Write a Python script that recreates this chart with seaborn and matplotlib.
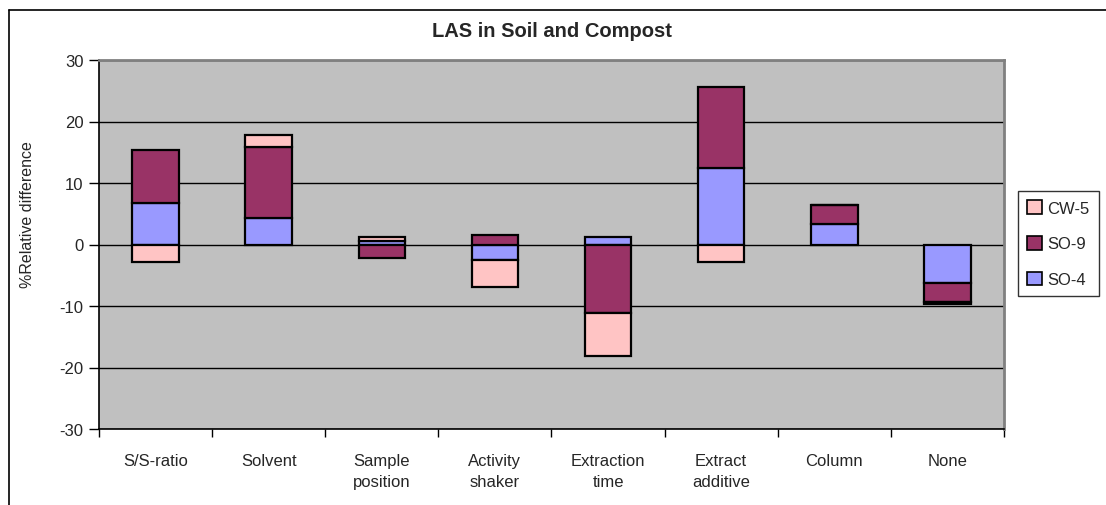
import matplotlib
matplotlib.use("Agg")
import matplotlib.pyplot as plt
import seaborn as sns
import numpy as np
import pandas as pd
from matplotlib.patches import Patch
from matplotlib.lines import Line2D

categories = ["S/S-ratio", "Solvent", "Sample\nposition", "Activity\nshaker",
              "Extraction\ntime", "Extract\nadditive", "Column", "None"]
so4 = [6.8, 4.3, 0.5, -2.5, 1.2, 12.5, 3.4, -6.2]
so9 = [8.5, 11.6, -2.2, 1.6, -11.2, 13.1, 3.1, -3.2]
cw5 = [-2.8, 1.9, 0.7, -4.4, -6.9, -2.8, 0.0, -0.3]
series_names = ["SO-4", "SO-9", "CW-5"]
series_values = [so4, so9, cw5]
series_colors = {"SO-4": "#9999FF", "SO-9": "#993366", "CW-5": "#FFC4C4"}

sns.set_style("white")
plt.rcParams['font.family'] = ['Liberation Sans', 'DejaVu Sans']
plt.rcParams['axes.unicode_minus'] = False

fig = plt.figure(figsize=(11.06, 5.06), dpi=100)
ax = fig.add_axes([99/1106, 1 - 430/506, (1004-99)/1106, (430-61)/506])
ax.set_facecolor("#C0C0C0")

pos_base = np.zeros(len(categories))
neg_base = np.zeros(len(categories))
for name, vals in zip(series_names, series_values):
    v = np.array(vals, dtype=float)
    bottoms = np.where(v >= 0, pos_base, neg_base)
    df = pd.DataFrame({"cat": categories, "val": v})
    sns.barplot(data=df, x="cat", y="val", bottom=bottoms, ax=ax,
                color=series_colors[name], width=0.41, edgecolor="black",
                linewidth=1.6, saturation=1, errorbar=None, zorder=3)
    pos_base = pos_base + np.where(v >= 0, v, 0)
    neg_base = neg_base + np.where(v < 0, v, 0)

ax.set_ylim(-30, 30)
ax.set_xlim(-0.5, len(categories) - 0.5)
ax.set_yticks(np.arange(-30, 31, 10))
ax.yaxis.grid(True, color="black", linewidth=1, zorder=1)
ax.set_axisbelow(True)
ax.set_xlabel("")
ax.set_ylabel("%Relative difference", fontsize=11.5)
ax.yaxis.set_label_coords((35 - 99) / 905, (430 - 215) / 369)
ax.tick_params(axis="y", direction="out", length=7, width=1, color="black",
               labelsize=12, pad=4, left=True)
ax.set_xticks(np.arange(len(categories)))
ax.set_xticklabels(categories, fontsize=12, linespacing=1.55)
ax.set_xticks(np.arange(len(categories) + 1) - 0.5, minor=True)
ax.tick_params(axis="x", which="major", length=0, pad=17)
ax.tick_params(axis="x", which="minor", direction="out", length=6, width=1,
               color="black", bottom=True)

for s in ["left", "bottom"]:
    ax.spines[s].set_color("black")
    ax.spines[s].set_linewidth(1.2)
for s in ["top", "right"]:
    ax.spines[s].set_color("#808080")
    ax.spines[s].set_linewidth(2)
    ax.spines[s].set_visible(True)

ax.set_title("LAS in Soil and Compost", fontsize=14.5, fontweight="bold", pad=17)

handles = [Patch(facecolor=series_colors[n], edgecolor="black", linewidth=1.2, label=n)
           for n in ["CW-5", "SO-9", "SO-4"]]
leg = fig.legend(handles=handles, loc="upper left",
                 bbox_to_anchor=(1018/1106, 1 - 192/506), frameon=True,
                 fontsize=12, handlelength=0.9, handleheight=0.9,
                 handletextpad=0.3, labelspacing=1.2, borderpad=0.55,
                 borderaxespad=0, fancybox=False, edgecolor="black")
leg.get_frame().set_linewidth(1)

# outer chart border
fig.add_artist(Line2D([9/1106, 9/1106], [0, 1 - 11/506], color="black",
                      linewidth=1.2, transform=fig.transFigure))
fig.add_artist(Line2D([9/1106, 1], [1 - 11/506, 1 - 11/506], color="black",
                      linewidth=1.2, transform=fig.transFigure))

fig.savefig("out.png", dpi=100)
